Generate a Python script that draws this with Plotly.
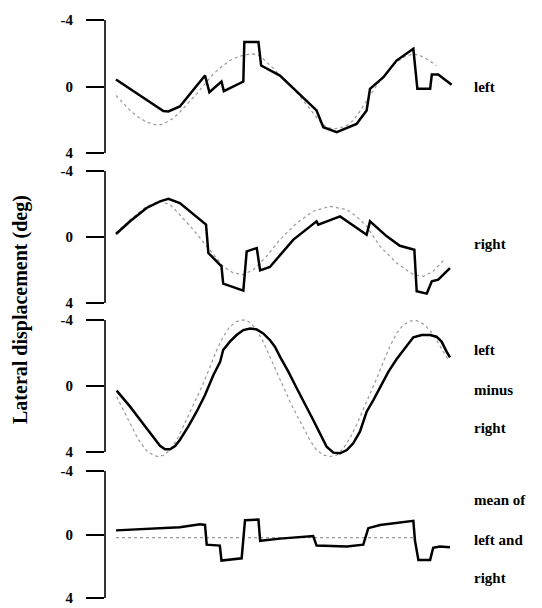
import plotly.graph_objects as go

# ---------------- data (time in arbitrary units 0..100, displacement in deg) ----------------
left_t = [0, 14.1, 15.6, 19.0, 26.5, 27.8, 31.4, 32.1, 37.9, 38.2, 42.4, 43.2, 48.8, 59.7, 61.7,
          65.7, 71.6, 74.6, 75.6, 79.6, 83.5, 88.5, 89.7, 93.5, 94.0, 95.9, 99.9]
left_v = [-0.42, 1.48, 1.50, 1.20, -0.66, 0.34, -0.30, 0.28, -0.30, -2.67, -2.67, -1.26, -0.66, 1.44, 2.45,
          2.75, 2.25, 1.44, 0.14, -0.56, -1.56, -2.27, 0.14, 0.14, -0.72, -0.72, -0.10]
left_tgt_t = [0, 2.0, 4.2, 6.6, 9.1, 11.6, 13.6, 15.1, 17.1, 19.0, 21.5, 24.0, 26.5, 29.0, 31.5, 33.9,
              36.4, 38.9, 40.9, 42.9, 44.8, 46.8, 48.8, 51.3, 53.8, 56.3, 58.7, 60.7, 62.7, 64.7,
              66.7, 68.7, 70.6, 72.6, 74.6, 76.6, 78.6, 81.0, 83.5, 86.0, 88.5, 90.5, 92.5, 95.4]
left_tgt_v = [0.54, 1.00, 1.44, 1.84, 2.14, 2.29, 2.29, 2.14, 1.90, 1.54, 1.00, 0.44, -0.16, -0.76, -1.20, -1.56,
              -1.80, -1.92, -1.96, -1.86, -1.46, -1.10, -0.66, -0.16, 0.34, 1.00, 1.64, 2.10, 2.45, 2.55,
              2.50, 2.34, 2.04, 1.50, 0.84, 0.24, -0.36, -0.96, -1.46, -1.80, -1.96, -1.86, -1.66, -1.26]

right_t = [0, 4.2, 9.1, 13.1, 15.6, 19.0, 26.8, 27.5, 31.4, 31.9, 37.9, 38.9, 41.9, 42.9, 45.8, 52.8,
           59.7, 60.2, 66.7, 74.6, 75.6, 80.6, 84.5, 88.8, 89.5, 92.5, 94.0, 95.9, 99.4]
right_v = [-0.18, -0.95, -1.76, -2.16, -2.32, -2.06, -0.75, 0.97, 1.78, 2.83, 3.25, 0.87, 0.67, 2.02, 1.82, 0.16,
           -0.95, -0.75, -1.25, -0.14, -0.95, -0.04, 0.53, 0.77, 3.29, 3.43, 2.69, 2.59, 1.88]
right_tgt_t = [0, 4.2, 9.1, 13.1, 16.1, 19.0, 23.0, 27.0, 31.9, 34.9, 37.9, 40.9, 44.8, 48.8, 53.8,
               58.7, 63.7, 68.7, 71.6, 74.6, 78.6, 83.5, 88.5, 91.5, 94.4, 97.9]
right_tgt_v = [-0.24, -1.05, -1.86, -2.16, -1.96, -1.35, -0.44, 0.57, 1.78, 2.18, 2.28, 1.98, 1.17, 0.16, -0.85,
               -1.56, -1.86, -1.66, -1.25, -0.65, 0.57, 1.58, 2.28, 2.38, 2.08, 1.33]

diff_t = [0.2, 2.2, 4.2, 6.6, 9.1, 11.1, 13.1, 14.6, 16.1, 17.6, 19.0, 21.5, 24.0, 26.5, 29.0, 31.0,
          31.9, 33.9, 35.9, 37.9, 39.9, 41.9, 43.8, 45.8, 47.3, 48.8, 51.3, 53.8, 56.3, 58.7, 60.7,
          62.7, 64.7, 66.7, 68.7, 70.6, 72.6, 74.6, 76.6, 78.6, 81.1, 83.5, 86.0, 88.5, 91.0, 93.5,
          95.4, 96.9, 98.4, 99.4]
diff_v = [0.28, 0.75, 1.25, 1.90, 2.57, 3.11, 3.62, 3.84, 3.84, 3.64, 3.27, 2.46, 1.56, 0.55, -0.67, -1.47,
          -2.18, -2.69, -3.09, -3.39, -3.49, -3.43, -3.19, -2.79, -2.38, -1.78, -0.87, 0.14, 1.09, 2.06, 2.87,
          3.68, 4.04, 4.08, 3.88, 3.47, 2.77, 1.56, 0.85, 0.08, -0.87, -1.62, -2.28, -2.95, -3.09, -3.09,
          -2.99, -2.69, -2.08, -1.74]
diff_tgt_t = [0.2, 2.2, 4.2, 6.6, 9.1, 11.1, 12.6, 14.1, 16.1, 18.1, 20.0, 22.0, 24.0, 26.0, 28.0, 30.0,
              31.9, 33.9, 35.9, 37.9, 39.9, 41.9, 43.8, 45.8, 47.8, 49.8, 51.8, 53.8, 55.8, 57.7, 59.7,
              61.7, 63.7, 65.7, 67.7, 69.6, 71.6, 73.6, 75.6, 77.6, 79.6, 81.5, 83.5, 85.5, 87.5, 89.5,
              91.5, 93.5, 95.4, 97.4, 98.9]
diff_tgt_v = [0.65, 1.45, 2.26, 3.23, 3.92, 4.20, 4.28, 4.20, 3.88, 3.27, 2.46, 1.56, 0.75, -0.16, -1.17, -2.18,
              -2.99, -3.60, -3.90, -4.00, -3.86, -3.39, -2.69, -1.78, -0.87, 0.08, 0.95, 1.76, 2.57, 3.27, 3.88,
              4.18, 4.28, 4.18, 3.78, 3.17, 2.36, 1.45, 0.55, -0.46, -1.47, -2.38, -3.19, -3.70, -3.94, -3.96,
              -3.76, -3.35, -2.79, -2.08, -1.58]

mean_t = [0, 9.1, 19.0, 25.0, 26.5, 27.0, 30.9, 31.4, 37.4, 38.4, 42.4, 42.9, 48.8, 58.7, 59.7,
          68.7, 73.6, 75.1, 78.6, 88.5, 89.0, 90.0, 93.5, 94.4, 96.4, 99.4]
mean_v = [-0.26, -0.36, -0.46, -0.64, -0.60, 0.64, 0.70, 1.64, 1.50, -0.90, -0.94, 0.40, 0.26, 0.10, 0.70,
          0.76, 0.64, -0.40, -0.60, -0.86, 0.40, 1.60, 1.60, 0.84, 0.76, 0.80]
mean_tgt_t = [0, 88.5]
mean_tgt_v = [0.2, 0.2]

label_lines = [["left"], ["right"], ["left", "minus", "right"], ["mean of", "left and", "right"]]
label_px_y = [[87], [244], [350, 390, 428], [500, 540, 578]]
y_tick_vals = [-4, 0, 4]
y_tick_text = ["-4", "0", "4"]
y_title = "Lateral displacement (deg)"

# ---------------- layout geometry ----------------
W, H = 542, 608
ML, MR, MT, MB = 105, 87, 14, 0
PW, PH = W - ML - MR, H - MT - MB
EXT = 0.35                      # y-range padding beyond +-4 so curves may dip past the end ticks
panel_px = [(20, 153), (171, 303), (320, 452), (471, 598)]   # pixel rows of -4 and +4 ticks


def to_paper_y(py):
    return (H - MB - py) / PH


series = [
    (left_t, left_v, left_tgt_t, left_tgt_v),
    (right_t, right_v, right_tgt_t, right_tgt_v),
    (diff_t, diff_v, diff_tgt_t, diff_tgt_v),
    (mean_t, mean_v, mean_tgt_t, mean_tgt_v),
]

fig = go.Figure()
serif = "Liberation Serif, Times New Roman, serif"

for i, (st, sv, tt, tv) in enumerate(series):
    n = "" if i == 0 else str(i + 1)
    top, bot = panel_px[i]
    pad = (bot - top) / 8 * EXT
    dom = [max(0.0, to_paper_y(bot + pad)), min(1.0, to_paper_y(top - pad))]
    fig.add_trace(go.Scatter(x=tt, y=tv, mode="lines", xaxis="x" + n, yaxis="y" + n,
                             line=dict(color="#9a9a9a", width=1.2, dash="dot"),
                             showlegend=False, hoverinfo="skip"))
    fig.add_trace(go.Scatter(x=st, y=sv, mode="lines", xaxis="x" + n, yaxis="y" + n,
                             line=dict(color="black", width=2.5),
                             showlegend=False))
    fig.layout["xaxis" + n] = dict(domain=[0, 1], range=[-3.27, 100.9], visible=False,
                                    anchor="y" + n)
    fig.layout["yaxis" + n] = dict(domain=dom, range=[4 + EXT, -4 - EXT], anchor="x" + n,
                                    tickvals=y_tick_vals, ticktext=y_tick_text,
                                    ticks="outside", ticklen=18, tickwidth=1.6, tickcolor="black",
                                    showline=False, showgrid=False, zeroline=False,
                                    ticklabelstandoff=10, ticklabeloverflow="allow",
                                    tickfont=dict(family=serif, size=15, color="black", weight="bold"))
    # axis spine running exactly from -4 to 4
    fig.add_shape(type="line", xref="x" + n + " domain", yref="y" + n,
                  x0=0, x1=0, y0=-4, y1=4, line=dict(color="black", width=1.6))
    for txt, py in zip(label_lines[i], label_px_y[i]):
        fig.add_annotation(text=txt, xref="paper", yref="paper",
                           x=(472 - ML) / PW, y=to_paper_y(py), xanchor="left", yanchor="middle",
                           showarrow=False,
                           font=dict(family=serif, size=15, color="black", weight="bold"))

fig.add_annotation(text=y_title, xref="paper", yref="paper",
                   x=(20.5 - ML) / PW, y=to_paper_y(309.5),
                   xanchor="center", yanchor="middle", textangle=-90, showarrow=False,
                   font=dict(family=serif, size=20, color="black", weight="bold"))

fig.update_layout(width=W, height=H, margin=dict(l=ML, r=MR, t=MT, b=MB, autoexpand=False),
                  paper_bgcolor="white", plot_bgcolor="white")

fig.write_html("out.html")
